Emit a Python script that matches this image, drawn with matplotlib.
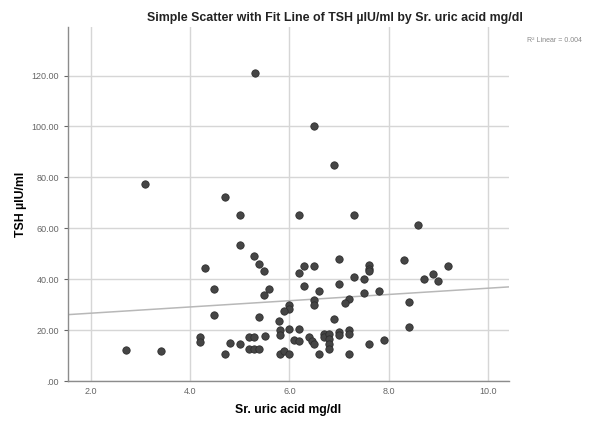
import numpy as np
import matplotlib.pyplot as plt

# Sr. uric acid (mg/dl) vs TSH (µIU/ml)
uric_acid = [
    5.31, 6.50, 6.90, 3.10, 4.70, 5.00, 6.20, 7.30, 8.60, 5.00,
    5.29, 5.39, 5.49, 4.30, 4.49, 5.59, 5.49, 4.49, 5.39, 6.30,
    6.50, 6.20, 7.00, 8.31, 7.61, 7.61, 7.61, 9.20, 7.30, 7.50,
    7.00, 6.30, 6.59, 7.50, 7.80, 8.90, 8.71, 9.00, 6.50, 6.50,
    7.21, 7.11, 8.40, 6.00, 6.00, 5.90, 6.90, 5.80, 8.40,
    2.70, 3.41, 4.20, 4.20, 4.80, 5.00, 4.70, 5.19, 5.29, 5.51,
    5.19, 5.29, 5.39, 5.82, 5.82, 6.00, 6.20, 6.10, 6.20, 6.40,
    6.45, 6.50, 6.70, 6.70, 6.80, 6.80, 6.80, 6.80, 7.00, 7.00,
    7.20, 7.20, 5.82, 5.90, 6.00, 6.60, 7.20, 7.61, 7.91,
]
tsh = [
    120.9, 100.0, 85.0, 77.4, 72.3, 65.1, 65.1, 65.1, 61.2, 53.3,
    49.1, 45.9, 43.1, 44.4, 36.0, 36.3, 34.0, 25.9, 25.0, 45.2,
    45.2, 42.6, 47.8, 47.5, 45.5, 44.2, 43.1, 45.4, 40.9, 40.2,
    38.3, 37.4, 35.4, 34.8, 35.4, 42.2, 40.2, 39.3, 32.0, 30.1,
    32.2, 30.7, 31.1, 29.8, 28.5, 27.6, 24.3, 23.6, 21.3,
    12.4, 11.8, 17.4, 15.4, 15.0, 14.5, 10.6, 17.4, 17.4, 17.6,
    12.5, 12.5, 12.5, 20.0, 18.0, 20.4, 20.3, 16.1, 15.7, 17.4,
    15.6, 14.5, 18.7, 17.4, 18.7, 16.7, 14.7, 12.8, 19.3, 18.3,
    20.0, 18.7, 10.8, 11.8, 10.8, 10.8, 10.6, 14.5, 16.3,
]
x_ticks = [2.0, 4.0, 6.0, 8.0, 10.0]
y_ticks = [0, 20, 40, 60, 80, 100, 120]
r2_reported = 0.004  # as printed on the original chart

x = np.array(uric_acid)
y = np.array(tsh)
slope, intercept = np.polyfit(x, y, 1)

plt.rcParams['font.family'] = ['Liberation Sans', 'DejaVu Sans']

fig = plt.figure(figsize=(5.91, 4.24), dpi=100)
ax = fig.add_axes([0.115, 0.101, 0.746, 0.835])

ax.set_xlim(1.54, 10.42)
ax.set_ylim(0, 139)

ax.set_xticks(x_ticks)
ax.set_xticklabels([f"{t:.1f}" for t in x_ticks])
ax.set_yticks(y_ticks)
ax.set_yticklabels(['.00' if t == 0 else f"{t:.2f}" for t in y_ticks])

ax.grid(True, color='#d6d6d6', linewidth=1.0)
ax.set_axisbelow(True)

for s in ['top', 'right']:
    ax.spines[s].set_visible(False)
for s in ['left', 'bottom']:
    ax.spines[s].set_color('#8c8c8c')
    ax.spines[s].set_linewidth(1.0)

ax.tick_params(axis='both', labelsize=6.5, colors='#666666', length=3,
               width=0.8, labelcolor='#666666')
ax.tick_params(axis='x', length=0, pad=4)

xx = np.array(ax.get_xlim())
ax.plot(xx, intercept + slope * xx, color='#b8b8b8', linewidth=1.1, zorder=2)

ax.scatter(x, y, s=28, color='#454545', edgecolors='#2e2e2e',
           linewidths=0.6, zorder=3)

ax.set_xlabel("Sr. uric acid mg/dl", fontsize=8.8, fontweight='bold', labelpad=6)
ax.set_ylabel("TSH µIU/ml", fontsize=8.8, fontweight='bold', labelpad=3)
fig.text(0.566, 0.958, "Simple Scatter with Fit Line of TSH µIU/ml by Sr. uric acid mg/dl",
         ha='center', va='center', fontsize=8.9, fontweight='bold', color='#222222')
fig.text(0.985, 0.905, f"R² Linear = {r2_reported:.3f}", ha='right', va='center',
         fontsize=5, color='#888888')

plt.savefig('out.png', dpi=100)
